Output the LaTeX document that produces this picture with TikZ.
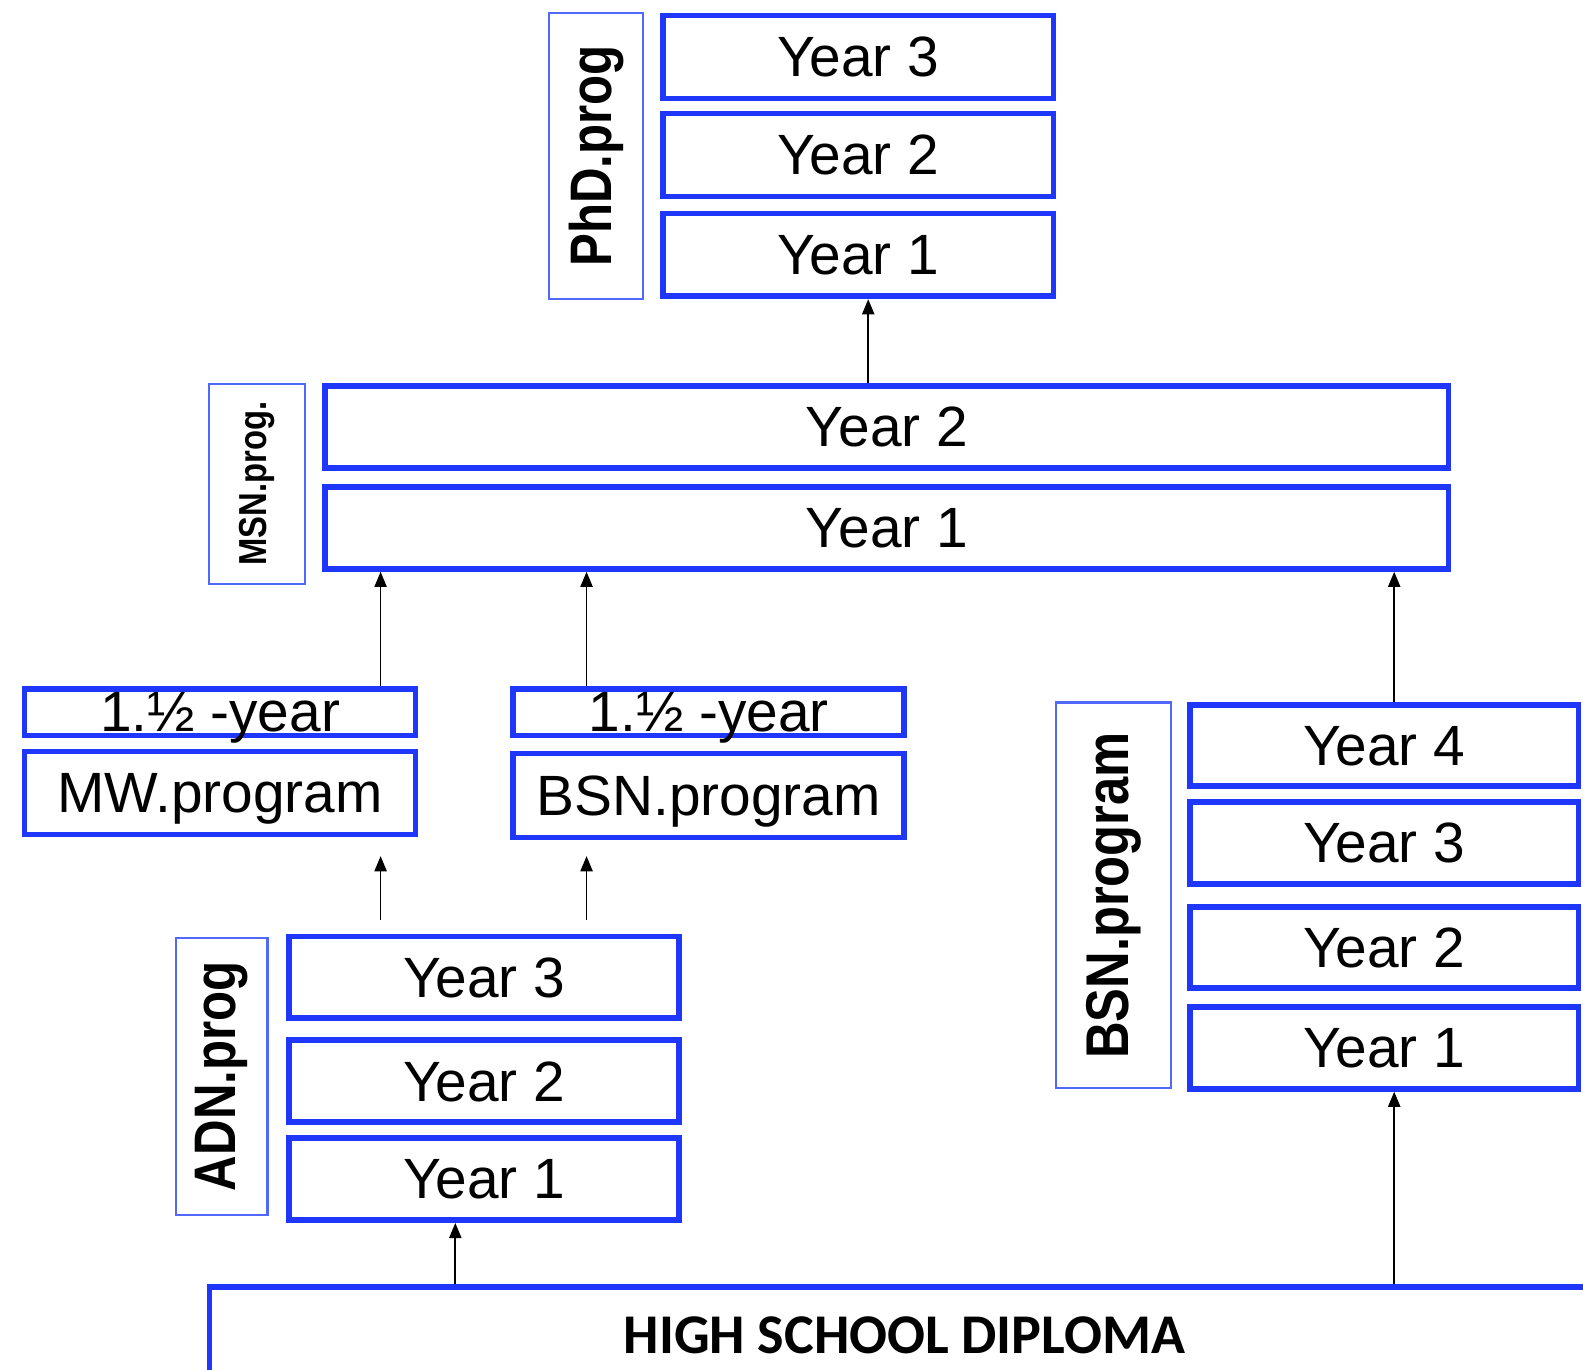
\documentclass[tikz,border=0pt]{standalone}
\usepackage{fontspec}
\setmainfont{Liberation Sans}
\newfontfamily\diplomafont{Carlito}
\usetikzlibrary{arrows.meta}
\definecolor{boxblue}{RGB}{30,55,250}
\definecolor{labblue}{RGB}{80,105,250}
\newcommand{\narrowtext}[1]{\scalebox{0.84}[1]{#1}}

\begin{document}
\begin{tikzpicture}[x=0.01cm,y=-0.01cm,
    yearbox/.style={draw=boxblue, line width=1.6pt, inner sep=0pt, text depth=0pt, font=\fontsize{16}{18}\selectfont},
    labbox/.style={draw=labblue, line width=0.6pt, inner sep=0pt, rotate=90},
    arr/.style={-{Triangle[length=0.15cm,width=0.12cm]}, line width=0.5pt}]
    \useasboundingbox (0,0) rectangle (1568,1357);

    \node[labbox, minimum width=2.83cm, minimum height=0.93cm, font=\bfseries\fontsize{16.5}{18}\selectfont] (phdlab) at (590.5,154.5) {\narrowtext{PhD.prog}};
    \node[yearbox, minimum width=3.87cm, minimum height=0.82cm] (phd3) at (850,56.5) {Year 3};
    \node[yearbox, minimum width=3.87cm, minimum height=0.82cm] (phd2) at (850,153.5) {Year 2};
    \node[yearbox, minimum width=3.87cm, minimum height=0.82cm] (phd1) at (850,252.5) {Year 1};

    \node[labbox, minimum width=1.98cm, minimum height=0.95cm, font=\bfseries\fontsize{11}{13}\selectfont] (msnlab) at (254.5,479) {\narrowtext{MSN.prog.}};
    \node[yearbox, minimum width=11.12cm, minimum height=0.81cm] (msn2) at (878.5,423) {Year 2};
    \node[yearbox, minimum width=11.12cm, minimum height=0.81cm] (msn1) at (878.5,523) {Year 1};

    \node[yearbox, minimum width=3.87cm, minimum height=0.46cm] (mwhalf) at (218,705.5) {1.½ -year};
    \node[yearbox, minimum width=3.87cm, minimum height=0.82cm] (mwprog) at (218,785.5) {MW.program};
    \node[yearbox, minimum width=3.87cm, minimum height=0.46cm] (bsnhalf) at (702,705.5) {1.½ -year};
    \node[yearbox, minimum width=3.87cm, minimum height=0.83cm] (bsnprog) at (702,788) {BSN.program};

    \node[labbox, minimum width=2.74cm, minimum height=0.91cm, font=\bfseries\fontsize{16.5}{18}\selectfont] (adnlab) at (219.5,1066) {\narrowtext{ADN.prog}};
    \node[yearbox, minimum width=3.86cm, minimum height=0.81cm] (adn3) at (479.5,968) {Year 3};
    \node[yearbox, minimum width=3.86cm, minimum height=0.81cm] (adn2) at (479.5,1071) {Year 2};
    \node[yearbox, minimum width=3.86cm, minimum height=0.81cm] (adn1) at (479.5,1168) {Year 1};

    \node[labbox, minimum width=3.82cm, minimum height=1.14cm, font=\bfseries\fontsize{17}{19}\selectfont] (bsnlab) at (1103,887) {\narrowtext{BSN.program}};
    \node[yearbox, minimum width=3.85cm, minimum height=0.80cm] (bsn4) at (1371,738.5) {Year 4};
    \node[yearbox, minimum width=3.85cm, minimum height=0.81cm] (bsn3) at (1371,835) {Year 3};
    \node[yearbox, minimum width=3.85cm, minimum height=0.80cm] (bsn2) at (1371,938.5) {Year 2};
    \node[yearbox, minimum width=3.85cm, minimum height=0.81cm] (bsn1) at (1371,1038) {Year 1};

    \node[yearbox, minimum width=13.76cm, minimum height=0.94cm, font=\diplomafont\bfseries\fontsize{15.8}{18}\selectfont] (hsd) at (896,1322) {HIGH SCHOOL DIPLOMA};

    \coordinate (colphd) at (860,0);
    \coordinate (colmw) at (377,0);
    \coordinate (colbsn) at (581,0);
    \coordinate (colright) at (1381,0);
    \coordinate (coladn) at (451,0);
    \coordinate (mwtail) at (377,911);
    \coordinate (mwtip) at (377,848);
    \coordinate (bsntail) at (581,911);
    \coordinate (bsntip) at (581,848);

    \draw[arr] (msn2.north -| colphd) -- (phd1.south -| colphd);
    \draw[arr] (mwhalf.north -| colmw) -- (msn1.south -| colmw);
    \draw[arr] (bsnhalf.north -| colbsn) -- (msn1.south -| colbsn);
    \draw[arr] (bsn4.north -| colright) -- (msn1.south -| colright);
    \draw[arr] (mwtail) -- (mwtip);
    \draw[arr] (bsntail) -- (bsntip);
    \draw[arr] (hsd.north -| coladn) -- (adn1.south -| coladn);
    \draw[arr] (hsd.north -| colright) -- (bsn1.south -| colright);
\end{tikzpicture}
\end{document}
